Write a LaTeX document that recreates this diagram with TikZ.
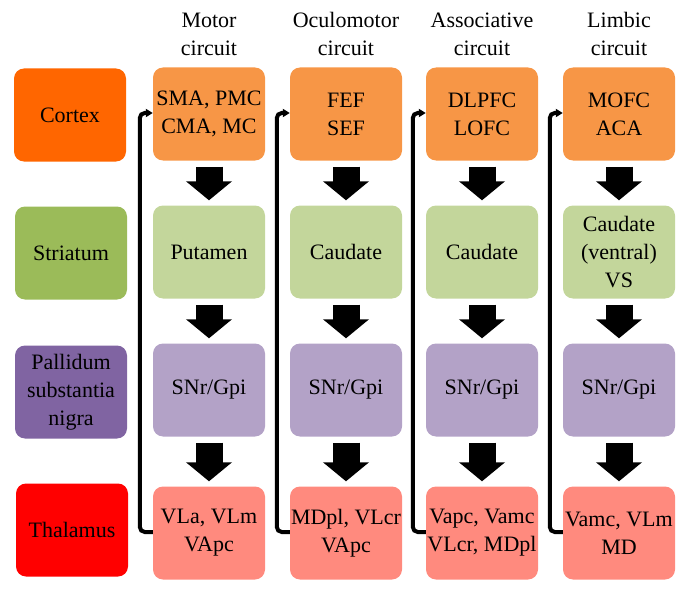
\documentclass[tikz,border=0pt]{standalone}
\usepackage{fontspec}
\setmainfont{Liberation Serif}
\usepackage{xcolor}
\usepackage{tikz}
\usetikzlibrary{arrows.meta, positioning}
\definecolor{ctxA}{HTML}{FF6600}
\definecolor{ctxB}{HTML}{F79646}
\definecolor{strA}{HTML}{9BBB59}
\definecolor{strB}{HTML}{C3D69B}
\definecolor{palA}{HTML}{8064A2}
\definecolor{palB}{HTML}{B3A2C7}
\definecolor{thaA}{HTML}{FF0000}
\definecolor{thaB}{HTML}{FF8A7E}
\tikzset{
    box/.style={rounded corners=10pt, minimum width=112pt, minimum height=93pt,
        inner sep=0pt, align=center, font=\fontsize{22}{28}\selectfont},
    head/.style={align=center, font=\fontsize{22}{28}\selectfont},
    blk/.style={line width=27pt, -{Triangle[length=19pt, width=45pt]}},
    fb/.style={line width=4pt, rounded corners=5pt, -{Triangle[length=7pt, width=8pt]}}
}

\begin{document}
\begin{tikzpicture}[x=1pt, y=-1pt, >=stealth]
        \useasboundingbox (0,0) rectangle (689,594);
        % row labels
        \node[box, fill=ctxA] (cor0) at (70,115) {Cortex};
        \node[box, fill=strA] (str0) at (71,253) {Striatum};
        \node[box, fill=palA] (pal0) at (71,392) {Pallidum\\substantia\\nigra};
        \node[box, fill=thaA] (tha0) at (72,530) {Thalamus};
        % the four circuits
        \foreach \i/\x/\hd/\cx/\st/\th in {
            1/209/{Motor\\circuit}/{SMA, PMC\\CMA, MC}/{Putamen}/{VLa, VLm\\VApc},
            2/346/{Oculomotor\\circuit}/{FEF\\SEF}/{Caudate}/{MDpl, VLcr\\VApc},
            3/482/{Associative\\circuit}/{DLPFC\\LOFC}/{Caudate}/{Vapc, Vamc\\VLcr, MDpl},
            4/619/{Limbic\\circuit}/{MOFC\\ACA}/{Caudate\\(ventral)\\VS}/{Vamc, VLm\\MD}} {
            \node[head] (hd\i) at (\x,34) {\hd};
            \node[box, fill=ctxB] (cor\i) at (\x,114) {\cx};
            \node[box, fill=strB] (str\i) at (\x,252) {\st};
            \node[box, fill=palB] (pal\i) at (\x,390) {SNr/Gpi};
            \node[box, fill=thaB] (tha\i) at (\x,533) {\th};
            \draw[blk] ([yshift=-6pt]cor\i.south) -- ([yshift=5pt]str\i.north);
            \draw[blk] ([yshift=-6pt]str\i.south) -- ([yshift=5pt]pal\i.north);
            \draw[blk] ([yshift=-6pt]pal\i.south) -- ([yshift=5pt]tha\i.north);
            % loop back from thalamus to cortex
            \draw[fb] ([yshift=1pt]tha\i.west) -- ++(-13,0) |- ([yshift=1pt]cor\i.west);
        }
    \end{tikzpicture}
\end{document}
